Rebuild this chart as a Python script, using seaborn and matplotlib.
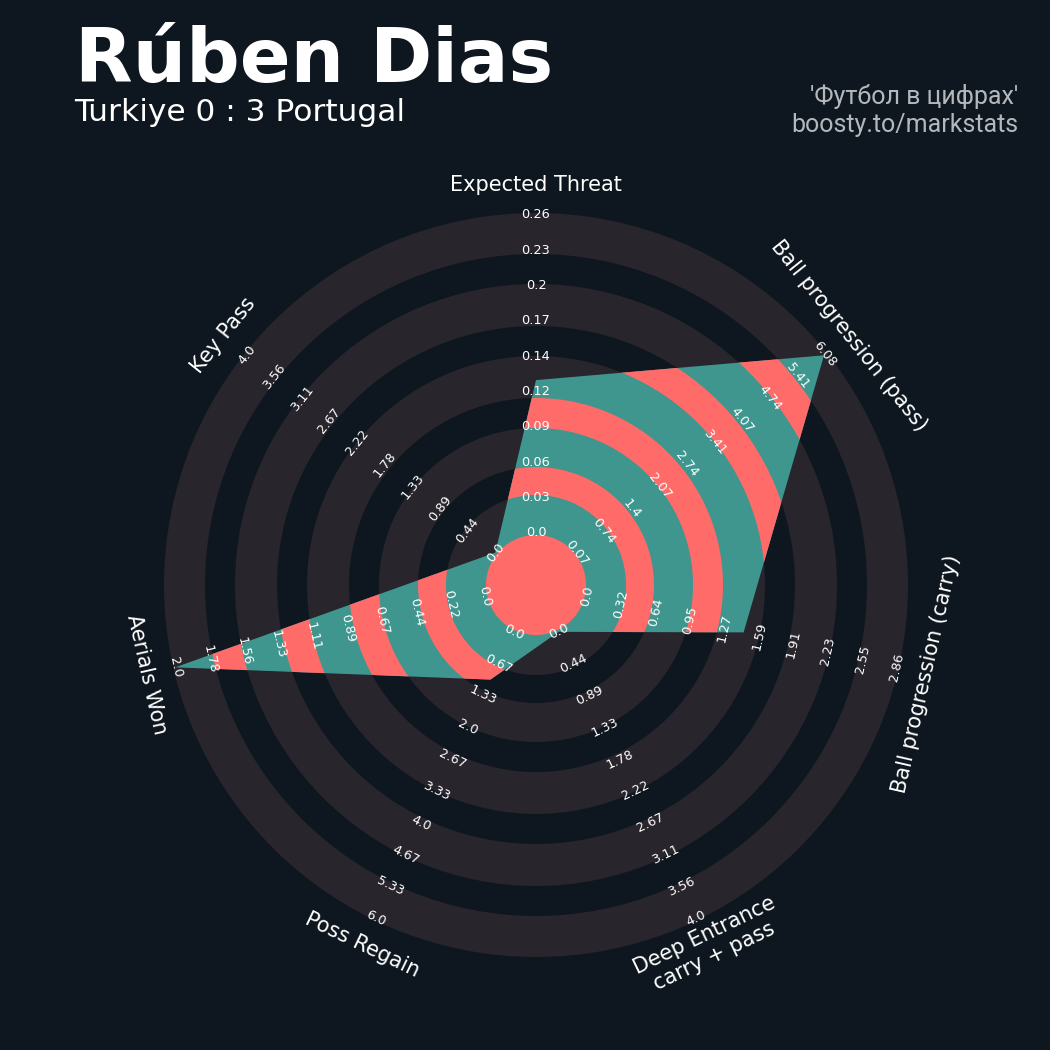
import numpy as np
import matplotlib
matplotlib.use("Agg")
import matplotlib.pyplot as plt
from matplotlib.patches import Polygon, Wedge, Circle
import seaborn as sns

# ---------------- data ----------------
params = ["Expected Threat", "Ball progression (pass)", "Ball progression (carry)",
          "Deep Entrance\ncarry + pass", "Poss Regain", "Aerials Won", "Key Pass"]
values = [0.125, 6.05, 1.45, 0.0, 1.0, 2.0, 0.0]
range_low = [0.0, 0.07, 0.0, 0.0, 0.0, 0.0, 0.0]
range_high = [0.26, 6.08, 2.865, 4.0, 6.0, 2.0, 4.0]
tick_labels = [
    ["0.0", "0.03", "0.06", "0.09", "0.12", "0.14", "0.17", "0.2", "0.23", "0.26"],
    ["0.07", "0.74", "1.4", "2.07", "2.74", "3.41", "4.07", "4.74", "5.41", "6.08"],
    ["0.0", "0.32", "0.64", "0.95", "1.27", "1.59", "1.91", "2.23", "2.55", "2.86"],
    ["0.0", "0.44", "0.89", "1.33", "1.78", "2.22", "2.67", "3.11", "3.56", "4.0"],
    ["0.0", "0.67", "1.33", "2.0", "2.67", "3.33", "4.0", "4.67", "5.33", "6.0"],
    ["0.0", "0.22", "0.44", "0.67", "0.89", "1.11", "1.33", "1.56", "1.78", "2.0"],
    ["0.0", "0.44", "0.89", "1.33", "1.78", "2.22", "2.67", "3.11", "3.56", "4.0"],
]
title = "Rúben Dias"
subtitle = "Turkiye 0 : 3 Portugal"
credit_1 = "'Футбол в цифрах'"
credit_2 = "boosty.to/markstats"

# ---------------- style ----------------
BG = "#0E171F"
RING = "#28252C"
TEAL = "#3E968F"
RED = "#FF6B68"
sns.set_theme(style="dark", rc={"figure.facecolor": BG, "axes.facecolor": BG})
plt.rcParams["font.family"] = ["DejaVu Sans"]

W = H = 1050
cx, cy = 536, 585
fig = plt.figure(figsize=(10.5, 10.5), dpi=100, facecolor=BG)
ax = fig.add_axes([0, 0, 1, 1])
ax.set_xlim(-cx, W - cx)
ax.set_ylim(-(H - cy), cy)
ax.set_facecolor(BG)
ax.axis("off")

# ring geometry (radius units)
ring_edges = [50, 90, 118, 157, 187, 229, 259, 301, 331, 372]
R0, R1 = 52, 370
n = len(params)
angles = np.deg2rad(90 - np.arange(n) * 360 / n)

# background rings
for k in range(1, len(ring_edges), 2):
    r_in, r_out = ring_edges[k - 1], ring_edges[k]
    ax.add_patch(Wedge((0, 0), r_out, 0, 360, width=r_out - r_in,
                       facecolor=RING, edgecolor="none", zorder=1))

# radar polygon
frac = [(v - lo) / (hi - lo) for v, lo, hi in zip(values, range_low, range_high)]
radii = [R0 + f * (R1 - R0) for f in frac]
verts = np.column_stack([np.array(radii) * np.cos(angles), np.array(radii) * np.sin(angles)])
poly = Polygon(verts, closed=True, facecolor=TEAL, edgecolor="none", zorder=2)
ax.add_patch(poly)

# alternating red bands clipped to polygon
c = Circle((0, 0), ring_edges[0], facecolor=RED, edgecolor="none", zorder=3)
ax.add_patch(c)
c.set_clip_path(poly)
for k in range(2, len(ring_edges), 2):
    r_in, r_out = ring_edges[k - 1], ring_edges[k]
    w = Wedge((0, 0), r_out, 0, 360, width=r_out - r_in,
              facecolor=RED, edgecolor="none", zorder=3)
    ax.add_patch(w)
    w.set_clip_path(poly)


def tangent_rot(theta_deg):
    rot = theta_deg - 90
    rot = (rot + 180) % 360 - 180
    if rot < -90:
        rot += 180
    elif rot > 90:
        rot -= 180
    return rot


label_r = np.linspace(R0, R1, 10)
for i, (a, labs) in enumerate(zip(angles, tick_labels)):
    rot = tangent_rot(np.rad2deg(a))
    for r, lab in zip(label_r, labs):
        ax.text(r * np.cos(a), r * np.sin(a), lab, color="white", fontsize=9.3,
                ha="center", va="center", rotation=rot, rotation_mode="anchor",
                zorder=5)
    ax.text(400 * np.cos(a), 400 * np.sin(a), params[i], color="white", fontsize=15,
            ha="center", va="center", multialignment="center",
            rotation=rot, rotation_mode="anchor", zorder=5)

# titles
fig.text(0.071, 1 - 82 / H, title, color="white", fontsize=54, fontweight="bold",
         ha="left", va="baseline")
fig.text(0.071, 1 - 121 / H, subtitle, color="white", fontsize=22.5,
         ha="left", va="baseline")
fig.text(1018 / W, 1 - 104 / H, credit_1, color="#B4B8BC", fontsize=18,
         ha="right", va="baseline", family=["Roboto", "DejaVu Sans"])
fig.text(1018 / W, 1 - 132 / H, credit_2, color="#B4B8BC", fontsize=18,
         ha="right", va="baseline", family=["Roboto", "DejaVu Sans"])

fig.savefig("out.png", dpi=100, facecolor=BG)
